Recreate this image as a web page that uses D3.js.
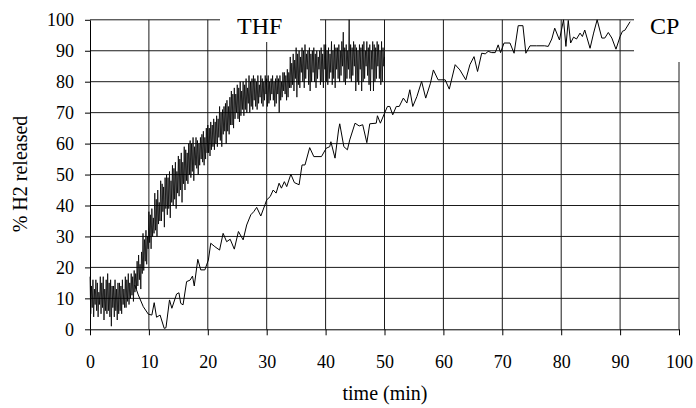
<!DOCTYPE html>
<html><head><meta charset="utf-8">
<script src="https://cdn.jsdelivr.net/npm/d3@7"></script>
<style>body{margin:0;background:#fff}</style>
</head><body>
<svg id="chart" width="696" height="408"></svg>
<script>
// ---- data ----
const xTicks = [0, 10, 20, 30, 40, 50, 60, 70, 80, 90, 100];
const yTicks = [0, 10, 20, 30, 40, 50, 60, 70, 80, 90, 100];
const xTitle = "time (min)";
const yTitle = "% H2 released";
const seriesNames = ["THF", "CP"];

// THF: noisy readings, sampled every 0.125 min from 0 to 50 min (one row = 1 min)
const thfStartMin = 0;
const thfIntervalMin = 0.125;
const thfValue = [
  17, 5, 14, 7, 16, 4, 13, 8,
  16, 6, 15, 4, 12, 8, 17, 5,
  15, 7, 17, 3, 13, 6, 16, 5,
  18, 6, 15, 4, 16, 1, 14, 7,
  14, 4, 16, 6, 13, 3, 15, 5,
  15, 6, 14, 5, 16, 8, 13, 7,
  17, 7, 16, 9, 18, 8, 15, 10,
  18, 11, 17, 9, 19, 12, 18, 13,
  22, 14, 24, 16, 21, 13, 25, 18,
  31, 19, 29, 22, 32, 21, 30, 26,
  38, 28, 37, 26, 39, 30, 36, 31,
  44, 32, 42, 30, 45, 34, 41, 35,
  48, 35, 47, 38, 46, 33, 49, 39,
  50, 37, 49, 39, 51, 36, 48, 41,
  53, 40, 52, 42, 54, 39, 51, 44,
  56, 43, 55, 45, 57, 41, 54, 47,
  59, 45, 58, 48, 57, 47, 60, 50,
  61, 49, 60, 51, 62, 48, 59, 53,
  62, 52, 61, 50, 60, 53, 62, 55,
  63, 54, 64, 53, 62, 55, 65, 57,
  66, 57, 65, 56, 67, 58, 66, 59,
  68, 58, 67, 60, 69, 59, 68, 62,
  72, 61, 70, 59, 71, 63, 72, 64,
  73, 60, 74, 64, 72, 63, 75, 66,
  77, 66, 76, 65, 78, 68, 76, 70,
  79, 68, 78, 67, 80, 69, 77, 71,
  80, 69, 79, 71, 81, 70, 78, 73,
  82, 70, 80, 72, 81, 71, 82, 74,
  81, 72, 80, 71, 82, 73, 79, 75,
  82, 73, 81, 72, 80, 74, 82, 76,
  81, 72, 82, 73, 80, 74, 81, 76,
  82, 74, 80, 72, 81, 73, 82, 76,
  81, 70, 82, 74, 80, 75, 83, 77,
  83, 76, 82, 74, 84, 75, 83, 78,
  88, 78, 86, 79, 89, 77, 87, 81,
  91, 75, 89, 79, 90, 78, 88, 83,
  91, 80, 90, 78, 92, 81, 89, 84,
  90, 79, 91, 77, 89, 80, 90, 83,
  91, 80, 89, 78, 90, 81, 88, 84,
  90, 79, 91, 80, 89, 78, 92, 84,
  92, 80, 90, 79, 91, 81, 89, 83,
  93, 79, 90, 81, 92, 78, 91, 84,
  91, 81, 92, 80, 90, 82, 93, 85,
  96, 80, 91, 79, 92, 81, 90, 84,
  100, 81, 92, 80, 91, 82, 93, 85,
  92, 77, 91, 80, 90, 79, 92, 84,
  91, 77, 92, 80, 93, 81, 90, 85,
  93, 82, 91, 79, 92, 77, 90, 84,
  93, 77, 92, 80, 91, 81, 93, 85,
  92, 81, 90, 79, 93, 80, 91, 85,
  88
];

// CP
const cpTime = [7.6, 8.2, 9.05, 9.9, 10.5, 10.9, 11.3, 11.9, 12.6, 12.9, 13.5, 13.9, 14.7, 15.1, 15.4, 15.8, 16.4, 17.0, 17.4, 17.7,
  18.3, 18.8, 19.5, 20.1, 20.5, 21.2, 22.0, 22.6, 23.2, 23.8, 24.5, 25.2, 26.0, 26.6, 27.3, 27.8, 28.3, 29.0, 29.7, 30.0,
  30.6, 31.1, 31.6, 32.1, 32.5, 33.0, 33.4, 34.1, 34.7, 35.5, 36.0, 36.5, 37.3, 38.0, 39.3, 40.1, 40.7, 40.9, 41.6, 42.2,
  42.4, 43.1, 43.7, 44.1, 45.0, 45.7, 46.3, 47.0, 47.5, 48.6, 48.8, 49.3, 50.0, 50.5, 50.9, 51.4, 52.0, 52.5, 53.2, 53.8,
  54.3, 54.8, 55.5, 56.3, 57.0, 57.8, 58.3, 59.1, 60.3, 61.0, 62.0, 62.8, 63.8, 64.5, 65.2, 65.8, 66.5, 67.1, 67.6, 68.2,
  68.8, 69.3, 69.7, 70.3, 71.3, 72.0, 72.7, 73.5, 74.0, 74.7, 75.8, 77.2, 77.8, 78.4, 78.9, 79.7, 80.4, 80.8, 81.2, 81.6,
  82.1, 82.6, 83.2, 83.6, 84.0, 84.9, 85.5, 86.1, 86.9, 87.4, 88.0, 88.6, 89.3, 90.0, 90.4, 90.8, 91.7];
const cpValue = [14.3, 11.1, 7.3, 4.9, 4.6, 8.6, 3.9, 4.6, 0.3, 0.5, 9.5, 6.8, 11.4, 11.8, 8.4, 7.9, 15.4, 15.9, 17.2, 14.0,
  22.6, 19.2, 19.2, 22.4, 27.8, 26.7, 25.6, 31.0, 28.3, 29.1, 25.9, 31.6, 28.9, 33.7, 37.0, 38.0, 39.4, 36.6, 40.2, 41.8,
  42.9, 45.0, 44.0, 47.2, 45.6, 47.7, 46.1, 50.1, 47.4, 46.7, 53.1, 53.1, 58.7, 55.8, 55.8, 58.5, 59.0, 60.6, 55.3, 64.4,
  66.4, 59.0, 58.0, 61.2, 66.6, 65.7, 66.1, 60.3, 66.4, 66.6, 69.0, 66.6, 69.8, 72.0, 72.0, 69.3, 72.0, 72.0, 74.7, 73.1,
  77.4, 72.0, 75.2, 80.1, 74.7, 79.5, 83.8, 80.6, 80.6, 77.6, 85.5, 83.8, 80.6, 85.5, 88.1, 83.3, 89.2, 89.0, 89.8, 89.4,
  89.4, 91.9, 89.4, 92.5, 92.5, 89.2, 98.1, 98.1, 89.2, 91.6, 91.6, 91.6, 91.4, 93.8, 97.3, 93.5, 100, 91.4, 99.8, 92.5,
  94.4, 93.8, 95.7, 94.6, 96.7, 90.8, 95.7, 100, 94.1, 94.1, 95.9, 94.1, 90.5, 94.6, 96.3, 96.6, 99.4];

// ---- drawing ----
const FONT = "'Liberation Serif', 'Times New Roman', serif";
const svg = d3.select('#chart');
svg.append('rect').attr('width', 696).attr('height', 408).attr('fill', '#fff');

const x = d3.scaleLinear().domain([0, 100]).range([90, 679]);
const y = d3.scaleLinear().domain([0, 100]).range([329.3, 19.8]);

// grid
const grid = svg.append('g').attr('stroke', '#1a1a1a').attr('stroke-width', 1);
grid.selectAll('line.h').data(yTicks.filter(d => d > 0)).join('line').attr('class', 'h')
  .attr('x1', x(0)).attr('x2', x(100)).attr('y1', d => y(d)).attr('y2', d => y(d));
grid.selectAll('line.v').data(xTicks.filter(d => d > 0)).join('line').attr('class', 'v')
  .attr('x1', d => x(d)).attr('x2', d => x(d)).attr('y1', y(100)).attr('y2', y(0));

// text boxes of the series labels (white fill, hiding the grid behind them)
svg.append('rect').attr('x', 220).attr('y', 0).attr('width', 100).attr('height', 42).attr('fill', '#fff');
svg.append('rect').attr('x', 634).attr('y', 0).attr('width', 62).attr('height', 62).attr('fill', '#fff');

// axes
const ax = svg.append('g').attr('transform', `translate(0,${y(0)})`)
  .call(d3.axisBottom(x).tickValues(xTicks).tickSizeInner(6).tickSizeOuter(0).tickPadding(20));
const ay = svg.append('g').attr('transform', `translate(${x(0)},0)`)
  .call(d3.axisLeft(y).tickValues(yTicks).tickSizeInner(5).tickSizeOuter(0).tickPadding(11));
[ax, ay].forEach(a => {
  a.selectAll('path,line').attr('stroke', '#000');
  a.selectAll('text').attr('font-family', FONT).attr('font-size', 18).attr('fill', '#000');
});

// series
const thf = thfValue.map((v, i) => ({ t: thfStartMin + i * thfIntervalMin, v }));
const cp = cpTime.map((t, i) => ({ t, v: cpValue[i] }));
const line = d3.line().x(d => x(d.t)).y(d => y(d.v));
svg.append('path').datum(cp).attr('d', line).attr('fill', 'none').attr('stroke', '#000').attr('stroke-width', 1);
svg.append('path').datum(thf).attr('d', line).attr('fill', 'none').attr('stroke', '#000').attr('stroke-width', 0.8);

// series labels
svg.append('text').attr('x', 237).attr('y', 34).text(seriesNames[0])
  .attr('font-family', FONT).attr('font-size', 24).attr('fill', '#000');
svg.append('text').attr('x', 650).attr('y', 34).text(seriesNames[1])
  .attr('font-family', FONT).attr('font-size', 24).attr('fill', '#000');

// axis titles
svg.append('text').attr('transform', 'translate(27,174) rotate(-90)').attr('text-anchor', 'middle')
  .attr('font-family', FONT).attr('font-size', 20).attr('fill', '#000').text(yTitle);
svg.append('text').attr('x', 385).attr('y', 400).attr('text-anchor', 'middle')
  .attr('font-family', FONT).attr('font-size', 20).attr('fill', '#000').text(xTitle);
</script>
</body></html>
